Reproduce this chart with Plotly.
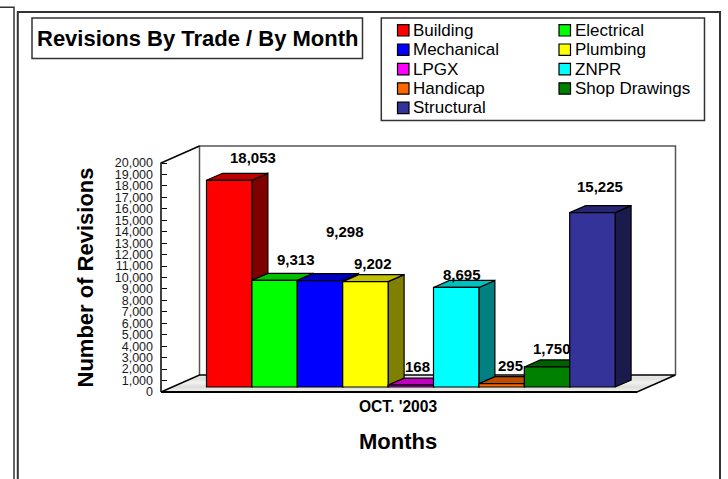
import plotly.graph_objects as go

TITLE = "Revisions By Trade / By Month"
Y_TITLE = "Number of Revisions"
X_TITLE = "Months"
CATEGORY_LABEL = "OCT. '2003"
TRADES = ["Building", "Electrical", "Mechanical", "Plumbing", "LPGX", "ZNPR",
          "Handicap", "Shop Drawings", "Structural"]
REVISIONS = [18053, 9313, 9298, 9202, 168, 8695, 295, 1750, 15225]
Y_TICKS = [0, 1000, 2000, 3000, 4000, 5000, 6000, 7000, 8000, 9000, 10000,
           11000, 12000, 13000, 14000, 15000, 16000, 17000, 18000, 19000, 20000]

COLORS = ["#ff0000", "#00ff00", "#0000ff", "#ffff00", "#ff00ff", "#00ffff",
          "#ff6600", "#008000", "#333399"]
LABEL_SHIFTS = [(24, 23), (21, 21), (25, 49), (8, 18), (7, 19), (6, 13), (9, 18), (5, 18), (8, 26)]

W, H = 728, 479
FONT = "Liberation Sans"
INK = "#000000"
# page geometry in pixels
AXIS_X, AXIS_Y0, AXIS_Y1 = 161, 392, 163
FLOOR_RIGHT = 637
WALL_DX, WALL_DY = 38.5, 17
BAR_X0, BAR_W, BAR_FLOOR = 206.5, 45.4, 387
BAR_DX, BAR_DY = 16, 7

UNITS_PER_PX = 20000 / (AXIS_Y0 - AXIS_Y1)


def dx(px):
    return (px - BAR_X0) / BAR_W - 0.5


def dy(py):
    return (AXIS_Y0 - py) * UNITS_PER_PX


def shade(color, k):
    r, g, b = (int(color[i:i + 2], 16) for i in (1, 3, 5))
    return "#%02x%02x%02x" % (round(r * k), round(g * k), round(b * k))


X_RANGE = [dx(0), dx(W)]
Y_RANGE = [dy(H), dy(0)]
BASE = (AXIS_Y0 - BAR_FLOOR) * UNITS_PER_PX
DEPTH_X = BAR_DX / BAR_W
DEPTH_Y = BAR_DY * UNITS_PER_PX

fig = go.Figure()


def poly(px_points, fill=None, width=1.3, color=INK, gradient=None):
    xs = [dx(p[0]) for p in px_points]
    ys = [dy(p[1]) for p in px_points]
    fig.add_trace(go.Scatter(x=xs, y=ys, mode="lines", fill="toself" if (fill or gradient) else "none",
                             fillcolor=fill, fillgradient=gradient,
                             line=dict(color=color, width=width),
                             hoverinfo="skip", showlegend=False))


# back wall, floor, side wall edges
poly([(AXIS_X + WALL_DX, AXIS_Y0 - WALL_DY), (AXIS_X + WALL_DX, AXIS_Y1 - WALL_DY),
      (FLOOR_RIGHT + WALL_DX, AXIS_Y1 - WALL_DY), (FLOOR_RIGHT + WALL_DX, AXIS_Y0 - WALL_DY)],
     color="#555555", width=1.5)
poly([(AXIS_X, AXIS_Y0), (FLOOR_RIGHT, AXIS_Y0), (FLOOR_RIGHT + WALL_DX, AXIS_Y0 - WALL_DY),
      (AXIS_X + WALL_DX, AXIS_Y0 - WALL_DY), (AXIS_X, AXIS_Y0)], width=1.5,
     gradient=dict(type="vertical",
                   colorscale=[[0, "#f3f3ea"], [0.3, "#dcdedc"], [0.55, "#f2f2ee"],
                               [0.8, "#dfe1e0"], [1, "#eeeeea"]]))
poly([(AXIS_X, AXIS_Y0), (FLOOR_RIGHT, AXIS_Y0)], width=2)
poly([(AXIS_X, AXIS_Y0), (AXIS_X, AXIS_Y1), (AXIS_X + WALL_DX, AXIS_Y1 - WALL_DY)], width=1.5)

# side and top faces of each bar, built from its value
for i, (v, c) in enumerate(zip(REVISIONS, COLORS)):
    left, right = i - 0.5, i + 0.5
    top = BASE + v
    fig.add_trace(go.Scatter(
        x=[right, right + DEPTH_X, right + DEPTH_X, right, right],
        y=[BASE, BASE + DEPTH_Y, top + DEPTH_Y, top, BASE],
        mode="lines", fill="toself", fillcolor=shade(c, 0.5),
        line=dict(color=INK, width=1.2), hoverinfo="skip", showlegend=False))
    fig.add_trace(go.Scatter(
        x=[left, left + DEPTH_X, right + DEPTH_X, right, left],
        y=[top, top + DEPTH_Y, top + DEPTH_Y, top, top],
        mode="lines", fill="toself", fillcolor=shade(c, 0.75),
        line=dict(color=INK, width=1.2), hoverinfo="skip", showlegend=False))

# front faces
fig.add_trace(go.Bar(x=list(range(len(TRADES))), y=REVISIONS, base=BASE, width=1,
                     marker=dict(color=COLORS, line=dict(color=INK, width=1.2)),
                     customdata=TRADES, hovertemplate="%{customdata}: %{y:,}<extra></extra>",
                     xaxis="x2", yaxis="y2", showlegend=False))

shapes = []
annotations = []


def box(x0, y0, x1, y1, width=1.5, color="#333333", fill=None):
    shapes.append(dict(type="rect", xref="paper", yref="paper",
                       x0=x0 / W, x1=x1 / W, y0=1 - y0 / H, y1=1 - y1 / H,
                       line=dict(color=color, width=width), fillcolor=fill))


def text(x, y, s, size, bold=False, anchor="center", angle=0):
    annotations.append(dict(xref="paper", yref="paper", x=x / W, y=1 - y / H, text=s,
                            showarrow=False, xanchor=anchor, yanchor="middle", textangle=angle,
                            font=dict(family=FONT, size=size, color=INK,
                                      weight="bold" if bold else "normal")))


box(-6, 7.3, 14, H + 6, width=1.5)
box(17.8, 12, 720, H + 6, width=2)
box(32, 18, 362.5, 58.5, width=1.5)
box(381.3, 18, 704.5, 120.5, width=1.5)

text(198.5, 38.5, TITLE, 22, bold=True)
text(85, 277.5, Y_TITLE, 22, bold=True, angle=-90)
text(398, 441.5, X_TITLE, 22, bold=True)

# legend, two columns filled row by row
for i, (name, c) in enumerate(zip(TRADES, COLORS)):
    col, row = i % 2, i // 2
    sx = 397.5 if col == 0 else 559
    sy = 30.3 + row * 19.4
    box(sx, sy - 5.7, sx + 11.5, sy + 5.7, width=1.2, color=INK, fill=c)
    text(sx + 13.5, sy, name, 17, anchor="left")

# data labels
for i, (v, (sx, sy)) in enumerate(zip(REVISIONS, LABEL_SHIFTS)):
    annotations.append(dict(x=i, y=BASE + v, xref="x2", yref="y2", text=f"{v:,}", showarrow=False,
                            xanchor="center", yanchor="middle", xshift=sx, yshift=sy,
                            font=dict(family=FONT, size=15, color=INK, weight="bold")))

fig.update_layout(
    width=W, height=H, margin=dict(l=0, r=0, t=0, b=0, autoexpand=False),
    paper_bgcolor="#ffffff", plot_bgcolor="#ffffff", showlegend=False,
    font=dict(family=FONT, color=INK), barmode="overlay",
    shapes=shapes, annotations=annotations,
    xaxis=dict(domain=[0, 1], range=X_RANGE, showgrid=False, zeroline=False, showline=False,
               anchor="free", position=1 - AXIS_Y0 / H,
               tickmode="array", tickvals=[dx(398)], ticktext=[CATEGORY_LABEL], ticks="",
               ticklabelstandoff=3, tickfont=dict(family=FONT, size=15.6, color=INK, weight="bold")),
    yaxis=dict(domain=[0, 1], range=Y_RANGE, showgrid=False, zeroline=False, showline=False,
               anchor="free", position=AXIS_X / W,
               tickmode="array", tickvals=Y_TICKS, tickformat=",", ticks="inside", ticklen=5,
               tickcolor=INK, tickwidth=1.2, ticklabelstandoff=8,
               tickfont=dict(family=FONT, size=12.5, color="#1a1a1a")),
    xaxis2=dict(domain=[0, 1], range=X_RANGE, overlaying="x", visible=False, anchor="y2"),
    yaxis2=dict(domain=[0, 1], range=Y_RANGE, overlaying="y", visible=False, anchor="x2"),
)

fig.write_html("out.html", config=dict(displayModeBar=False),
               post_script="document.body.style.margin='0';document.body.style.overflow='hidden';")
